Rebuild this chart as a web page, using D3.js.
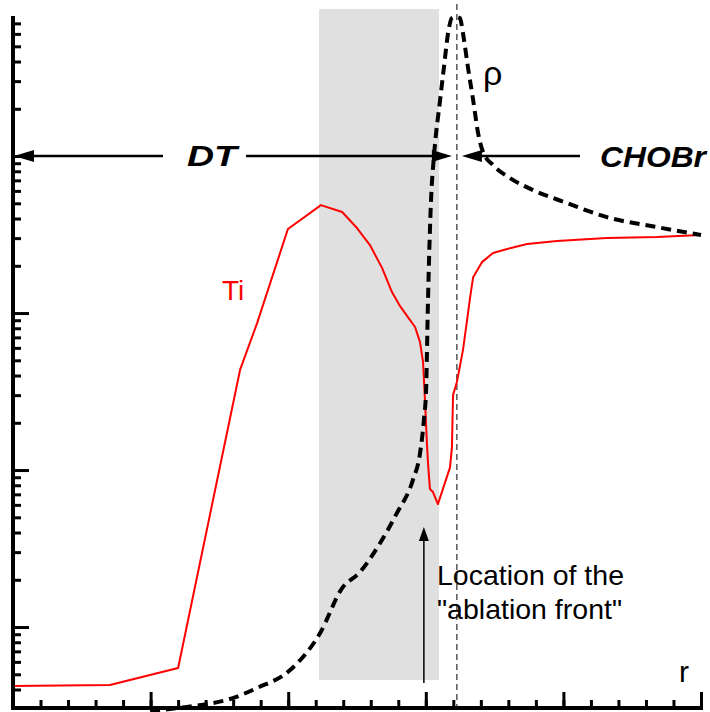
<!DOCTYPE html>
<html>
<head>
<meta charset="utf-8">
<script src="https://cdn.jsdelivr.net/npm/d3@7"></script>
<style>
  body { margin: 0; background: #fff; }
  svg { display: block; font-family: "Liberation Sans", Arial, sans-serif; }
</style>
</head>
<body>
<div id="graph"></div>
<script>
// radius (arbitrary units) and values
const tiR = [0, 3.52, 6.0, 8.25, 8.87, 9.99, 11.19, 11.96, 12.5, 12.97, 13.41, 13.77, 14.06, 14.35,
  14.61, 14.79, 14.9, 14.97, 15.04, 15.08, 15.15, 15.26, 15.44, 15.88, 15.95, 15.99, 16.13, 16.35,
  16.5, 16.61, 16.72, 17.04, 17.44, 18.06, 18.68, 19.77, 21.58, 23.4, 25];
const tiVal = [0.421, 0.427, 0.548, 43.4, 86.3, 343, 487, 440, 348, 271, 194, 136, 111, 94.3,
  81.5, 65.3, 48.7, 27.9, 14.9, 11.1, 7.57, 7.24, 6.07, 10.4, 14.0, 30.0, 36.4, 58.1,
  90.2, 126, 169, 211, 241, 259, 275, 288, 301, 305, 314];

const rhoR = [4.98, 6.25, 7.99, 8.87, 10.07, 11.16, 11.96, 12.61, 13.34, 13.95, 14.53, 14.79, 14.93,
  15.01, 15.08, 15.19, 15.3, 15.52, 15.66, 15.81, 15.95, 16.1, 16.24, 16.35, 16.53, 16.72, 16.9,
  17.08, 17.44, 18.06, 18.9, 20.13, 21.58, 23.4, 25];
const rhoVal = [0.292, 0.309, 0.353, 0.409, 0.532, 0.916, 1.77, 2.24, 3.43, 5.32, 8.63, 12.8, 20.8,
  32.3, 121, 525, 1015, 2275, 3690, 6070, 7570, 7700, 7570, 6070, 3690, 2275, 1400,
  1060, 877, 724, 607, 502, 408, 353, 314];

const xMajor = [0, 5, 10, 15, 20, 25];
const xMinor = d3.range(0, 26);
const yMajor = [1, 10, 100, 1000];

// annotations
const zoneR = [11.12, 15.48];      // shaded zone
const frontR = 16.13;             // ablation front (dashed line)
const arrowLevel = 1000;          // DT / CHOBr arrows
const pointerR = 14.93;           // "Location of the ablation front" arrow

const width = 710, height = 712;

const x = d3.scaleLinear().domain([0, 25]).range([13, 701]);
const y = d3.scaleLog().domain([0.305, 7800]).range([708, 16]);

const yMinor = [];
[0.1, 1, 10, 100, 1000].forEach(d => {
  for (let k = 2; k <= 9; k++) {
    const v = d * k;
    if (v > 0.31 && v < 7800) yMinor.push(v);
  }
});

const svg = d3.select('#graph')
  .append('svg')
    .attr('width', width)
    .attr('height', height);

// shaded zone
svg.append('rect')
  .attr('x', x(zoneR[0]))
  .attr('y', 9)
  .attr('width', x(zoneR[1]) - x(zoneR[0]))
  .attr('height', y(0.46) - 9)
  .attr('fill', '#e0e0e0');

// ablation front
svg.append('line')
  .attr('x1', x(frontR)).attr('x2', x(frontR))
  .attr('y1', 4).attr('y2', height)
  .attr('stroke', 'black')
  .attr('stroke-width', 1)
  .attr('stroke-dasharray', '6,4');

// Ti
const tiLine = d3.line()
  .x((d, i) => x(tiR[i]))
  .y(d => y(d));

svg.append('path')
  .attr('d', tiLine(tiVal))
  .attr('fill', 'none')
  .attr('stroke', '#ff0000')
  .attr('stroke-width', 2)
  .attr('stroke-linejoin', 'round');

// rho
const rhoLine = d3.line()
  .x((d, i) => x(rhoR[i]))
  .y(d => y(d))
  .curve(d3.curveMonotoneX);

svg.append('path')
  .attr('d', rhoLine(rhoVal))
  .attr('fill', 'none')
  .attr('stroke', 'black')
  .attr('stroke-width', 4)
  .attr('stroke-dasharray', '10,6');

// axes
function styleAxis(g) {
  g.select('.domain').remove();
  g.selectAll('.tick line').attr('stroke', 'black').attr('stroke-width', 3);
}

svg.append('g')
  .attr('transform', 'translate(13,0)')
  .call(d3.axisRight(y).tickValues(yMinor).tickSize(8).tickFormat(''))
  .call(styleAxis);

svg.append('g')
  .attr('transform', 'translate(13,0)')
  .call(d3.axisRight(y).tickValues(yMajor).tickSize(16).tickFormat(''))
  .call(styleAxis);

svg.append('g')
  .attr('transform', 'translate(0,708)')
  .call(d3.axisTop(x).tickValues(xMinor).tickSize(8).tickFormat(''))
  .call(styleAxis);

svg.append('g')
  .attr('transform', 'translate(0,708)')
  .call(d3.axisTop(x).tickValues(xMajor).tickSize(16).tickFormat(''))
  .call(styleAxis);

svg.append('line')
  .attr('x1', 13).attr('x2', 13)
  .attr('y1', 16).attr('y2', 710)
  .attr('stroke', 'black').attr('stroke-width', 4);

svg.append('line')
  .attr('x1', 11).attr('x2', 703)
  .attr('y1', 708).attr('y2', 708)
  .attr('stroke', 'black').attr('stroke-width', 4);

// DT / CHOBr arrows
const ay = y(arrowLevel);

function hLine(x1, x2) {
  svg.append('line')
    .attr('x1', x1).attr('x2', x2)
    .attr('y1', ay).attr('y2', ay)
    .attr('stroke', 'black').attr('stroke-width', 2.5);
}

function head(tipX, dir) {
  const b = tipX - dir * 20;
  svg.append('path')
    .attr('d', `M${tipX},${ay} L${b},${ay - 6} L${b},${ay + 6} Z`)
    .attr('fill', 'black');
}

hLine(x(0) + 10, 163);
hLine(246, x(frontR) - 12);
head(x(0) + 1, -1);
head(x(frontR) - 5, 1);
hLine(x(frontR) + 15, 580);
head(x(frontR) + 5, -1);

svg.append('text')
  .attr('x', 187).attr('y', ay + 10)
  .attr('font-size', 30).attr('font-weight', 'bold').attr('font-style', 'italic')
  .attr('textLength', 50).attr('lengthAdjust', 'spacingAndGlyphs')
  .text('DT');

svg.append('text')
  .attr('x', 600).attr('y', ay + 11)
  .attr('font-size', 30).attr('font-weight', 'bold').attr('font-style', 'italic')
  .attr('textLength', 106).attr('lengthAdjust', 'spacingAndGlyphs')
  .text('CHOBr');

// labels
svg.append('text')
  .attr('x', 483).attr('y', 85)
  .attr('font-size', 34)
  .text('ρ');

svg.append('text')
  .attr('x', 222).attr('y', 300)
  .attr('font-size', 28)
  .attr('fill', '#ff0000')
  .text('Ti');

svg.append('text')
  .attr('x', 679).attr('y', 682)
  .attr('font-size', 30)
  .text('r');

// ablation front pointer
const px = x(pointerR);
svg.append('line')
  .attr('x1', px).attr('x2', px)
  .attr('y1', 683).attr('y2', 538)
  .attr('stroke', 'black').attr('stroke-width', 1.5);

svg.append('path')
  .attr('d', `M${px},527 L${px - 5},541 L${px + 5},541 Z`)
  .attr('fill', 'black');

svg.append('text')
  .attr('x', 437).attr('y', 585)
  .attr('font-size', 28.5)
  .text('Location of the');

svg.append('text')
  .attr('x', 437).attr('y', 619)
  .attr('font-size', 28.5)
  .text('"ablation front"');
</script>
</body>
</html>
